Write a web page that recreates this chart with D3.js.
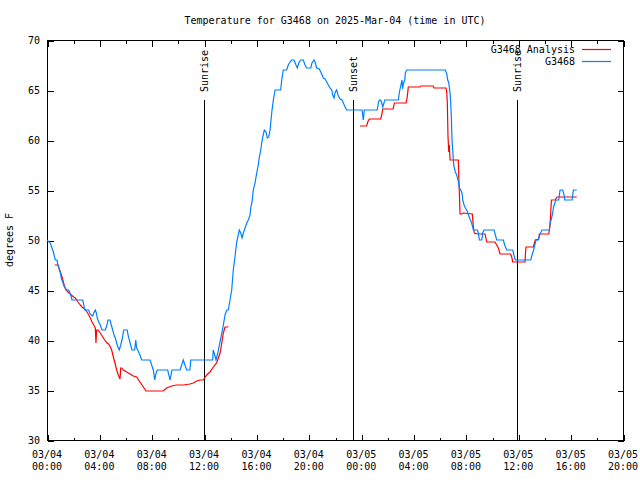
<!DOCTYPE html>
<html>
<head>
<meta charset="utf-8">
<script src="https://cdn.jsdelivr.net/npm/d3@7"></script>
<style>
  body { margin: 0; background: #fff; }
  svg text { font-family: "DejaVu Sans Mono", monospace; font-size: 10px; fill: #000; }
  .frame, .tick line, .event { shape-rendering: crispEdges; }
</style>
</head>
<body>
<script>
// hours after 2025-03-04 00:00 UTC, temperature in degrees F
var obsHours = [0, 0.25, 0.38, 0.51, 0.63, 0.76, 0.84, 0.94, 1.02, 1.09, 1.2, 1.3, 1.4, 1.5, 1.66, 1.76, 1.86, 1.91,
  2.73, 2.8, 2.88, 3.19, 3.26, 3.38, 3.49, 3.57, 3.69, 3.77, 3.84, 3.95, 4.07, 4.2, 4.45, 4.58, 4.66, 4.81, 4.91,
  5.02, 5.12, 5.22, 5.32, 5.42, 5.52, 5.63, 5.73, 5.86, 6.13, 6.19, 6.29, 6.39, 6.49, 6.7, 6.78, 6.85, 6.93, 7.1,
  7.23, 7.87, 8.12, 8.23, 8.33, 8.43, 9.22, 9.4, 9.55, 10.16, 10.29, 10.41, 10.54, 10.67, 10.92, 10.98, 12.66,
  12.7, 12.81, 12.91, 13.01, 13.12, 13.22, 13.35, 13.47, 13.6, 13.73, 13.85, 13.98, 14.11, 14.23, 14.36, 14.49,
  14.61, 14.69, 14.8, 14.9, 15.0, 15.13, 15.26, 15.38, 15.51, 15.56, 15.66, 15.76, 15.89, 16.02, 16.14, 16.22,
  16.33, 16.4, 16.48, 16.6, 16.73, 16.83, 16.94, 17.04, 17.11, 17.19, 17.29, 17.42, 17.85, 17.93, 18.05, 18.31,
  18.43, 18.56, 18.69, 18.87, 19.02, 19.12, 19.23, 19.38, 19.58, 19.71, 19.84, 20.15, 20.24, 20.4, 20.5, 20.6,
  20.8, 20.95, 21.11, 21.24, 21.37, 21.49, 21.62, 21.75, 21.83, 21.93, 22.02, 22.13, 22.23, 22.38, 22.54, 22.64,
  22.77, 22.9, 24.07, 24.16, 24.24, 25.23, 25.31, 25.39, 25.49, 25.57, 25.65, 25.74, 25.8, 26.84, 26.91, 26.97,
  27.07, 27.12, 27.17, 27.22, 27.33, 27.37, 27.48, 30.43, 30.54, 30.61, 30.69, 30.79, 30.84, 30.89, 30.94, 30.99,
  31.04, 31.09, 31.19, 31.3, 31.4, 31.5, 31.61, 31.7, 31.76, 31.86, 31.96, 32.06, 32.19, 32.31, 32.44, 32.57,
  32.87, 32.95, 33.03, 33.21, 33.28, 33.38, 34.15, 34.25, 34.35, 34.86, 34.96, 35.12, 35.58, 35.68, 35.78, 36.95,
  37.05, 37.15, 37.26, 37.36, 37.53, 37.66, 37.82, 38.37, 38.43, 38.53, 38.63, 38.68, 38.79, 38.89, 39.09, 39.19,
  39.4, 39.5, 39.55, 40.11, 40.21, 40.47];
var obsTemp = [50, 49.7, 49.2, 48.7, 48, 48, 47.5, 47.1, 46.7, 46.2, 45.8, 45.4, 45.2, 45, 45, 44.7, 44.3, 44,
  44, 43.6, 43, 43, 42.7, 42.5, 42.4, 42.7, 43, 42.7, 42.2, 41.8, 41.5, 41, 41, 41.5, 42, 42, 41.5,
  41, 40.5, 40.2, 39.7, 39.3, 39, 39.5, 40, 41, 41, 40.5, 40, 39.5, 39, 39, 40, 39.2, 39, 38.5,
  38, 38, 37, 36, 36.7, 37, 37, 36, 37, 37, 37.5, 38, 37.5, 37, 37, 38, 38,
  39, 38.5, 38, 38.5, 39.2, 39.8, 40.7, 41.5, 42.5, 43, 43, 44, 45, 47, 48.3, 49.8,
  50.5, 51, 50.7, 50.2, 50.7, 51.2, 51.7, 52, 52.5, 53.2, 53.8, 55, 55.7, 56.7, 57.5, 58.3,
  59, 59.7, 60.3, 61, 60.8, 60.2, 60.3, 61, 62, 63, 64, 65, 65, 66, 67, 67,
  67.5, 67.8, 68, 68, 67.5, 67.2, 67.7, 68, 68, 67.5, 67.2, 67.2, 67.7, 68, 67.7, 67.2,
  67.1, 66.7, 66.2, 66.1, 65.8, 65.5, 65.2, 65, 64.5, 64.2, 64.8, 65, 64.5, 64.1, 64, 63.7,
  63.3, 63, 63, 62, 63, 63, 63.7, 64, 64, 63.7, 63.3, 63.7, 64, 64, 64.7, 65.1,
  65.7, 66, 65.1, 65.6, 66, 66.7, 67, 67, 66.6, 66, 65.7, 64.7, 63.7, 62.1, 60, 59,
  58, 57.3, 56.8, 56.5, 56, 55.2, 55, 54.7, 54, 53.5, 53.2, 53, 52.5, 52.1, 51.7, 51,
  51, 50.7, 50, 50, 50.7, 51, 51, 50.5, 50, 50, 49.5, 49, 49, 48.4, 48, 48,
  48.5, 48.9, 49.5, 50, 50, 50.6, 51, 51, 51.7, 52.1, 52.7, 53.2, 53.7, 54, 54, 55,
  55, 54.5, 54, 54, 55, 55];

// analysis run: two pieces with a gap in between
var anaHours1 = [0.59, 0.84, 0.94, 1.02, 1.15, 1.25, 1.35, 1.45, 1.6, 1.7, 1.86, 2.04, 2.16, 2.37, 2.54, 2.67,
  2.88, 3.06, 3.19, 3.31, 3.44, 3.57, 3.69, 3.74, 3.79, 3.9, 4.07, 4.26, 4.41, 4.58, 4.71, 4.84, 4.94, 5.07,
  5.19, 5.32, 5.45, 5.58, 5.63, 5.71, 5.83, 6.09, 6.34, 6.59, 6.85, 7.1, 7.36, 7.56, 8.88, 9.14, 9.53, 9.91,
  10.41, 10.92, 11.18, 11.44, 11.69, 11.94, 12.2, 12.45, 12.7, 12.96, 13.09, 13.22, 13.35, 13.47, 13.6, 13.85];
var anaTemp1 = [47.5, 47.5, 47.1, 46.8, 46.3, 45.8, 45.3, 45, 44.8, 44.7, 44.5, 44.3, 44.2, 43.8, 43.5, 43.3,
  43.1, 42.8, 42.5, 42.2, 41.8, 41.5, 41.2, 39.7, 41, 41, 40.7, 40.3, 40, 39.7, 39.6, 39.3, 39, 38.3,
  37.7, 37, 36.5, 36.1, 37.2, 37.2, 37, 36.8, 36.6, 36.4, 36.3, 35.8, 35.3, 34.9, 34.9, 35.2, 35.4, 35.5,
  35.5, 35.6, 35.7, 35.9, 36, 36, 36.5, 36.8, 37.3, 37.7, 38.2, 38.7, 39.7, 40.7, 41.3, 41.3];
var anaHours2 = [23.91, 24.42, 24.5, 24.62, 25.49, 25.57, 25.65, 26.45, 26.53, 27.43, 27.52, 27.6, 28.49, 28.55,
  29.51, 29.56, 30.48, 30.54, 30.58, 30.63, 30.69, 30.73, 30.79, 31.42, 31.45, 31.55, 31.68, 31.8, 32.49, 32.57,
  32.64, 32.87, 33.46, 33.59, 34.22, 34.48, 34.61, 35.42, 35.52, 35.57, 36.52, 36.54, 36.59, 37.15, 37.3,
  37.56, 37.61, 38.33, 38.43, 38.53, 38.81, 38.96, 40.47];
var anaTemp2 = [61.4, 61.4, 61.8, 62.1, 62.1, 62.5, 63.1, 63.1, 63.7, 63.7, 64.3, 65.3, 65.3, 65.4,
  65.4, 65.2, 65.2, 64.7, 63.7, 60.4, 58.8, 59.5, 58, 58, 56.7, 52.6, 52.6, 52.7, 52.6, 51.3,
  50.7, 50.6, 50.6, 49.8, 49.8, 49.2, 48.6, 48.6, 48.2, 47.8, 47.8, 48.5, 49.3, 49.3, 50,
  50.1, 50.6, 50.6, 51.5, 54, 54, 54.3, 54.3];

var eventNames = ["Sunrise", "Sunset", "Sunrise"];
var eventHours = [11.99, 23.38, 35.9];

var yTicks = [30, 35, 40, 45, 50, 55, 60, 65, 70];
var seriesNames = ["G3468 Analysis", "G3468"];
var seriesColors = ["#ff0000", "#0080ff"];

var t0 = Date.UTC(2025, 2, 4, 0);
function toDate(h) { return new Date(t0 + h * 3600000); }

var width = 640, height = 480,
    plotL = 47, plotR = 623, plotT = 40, plotB = 440;

var svg = d3.select("body").append("svg")
  .attr("width", width)
  .attr("height", height);

var x = d3.scaleUtc()
  .domain([toDate(0), toDate(44)])
  .range([plotL, plotR]);
var y = d3.scaleLinear()
  .domain([30, 70])
  .range([plotB, plotT]);

// title
svg.append("text")
  .attr("x", (plotL + plotR) / 2)
  .attr("y", 24)
  .attr("text-anchor", "middle")
  .text("Temperature for G3468 on 2025-Mar-04 (time in UTC)");

// y axis label
svg.append("text")
  .attr("transform", "translate(13," + (plotT + plotB) / 2 + ") rotate(-90)")
  .attr("text-anchor", "middle")
  .text("degrees F");

// ticks on all four sides, pointing inwards
var major = d3.utcHour.every(4).range(toDate(0), toDate(44.01));
var minor = d3.utcHour.every(2).range(toDate(0), toDate(44.01));

function xTicks(vals, len) {
  svg.append("g").attr("transform", "translate(0.5," + (plotB + 0.5) + ")")
    .call(d3.axisBottom(x).tickValues(vals).tickSize(-len).tickFormat(""))
    .call(function (g) { g.select(".domain").remove(); });
  svg.append("g").attr("transform", "translate(0.5," + (plotT + 0.5) + ")")
    .call(d3.axisTop(x).tickValues(vals).tickSize(-len).tickFormat(""))
    .call(function (g) { g.select(".domain").remove(); });
}
xTicks(minor, 3);
xTicks(major, 6);

svg.append("g").attr("transform", "translate(" + (plotL + 0.5) + ",0.5)")
  .call(d3.axisLeft(y).tickValues(yTicks).tickSize(-6).tickFormat(""))
  .call(function (g) { g.select(".domain").remove(); });
svg.append("g").attr("transform", "translate(" + (plotR + 0.5) + ",0.5)")
  .call(d3.axisRight(y).tickValues(yTicks).tickSize(-6).tickFormat(""))
  .call(function (g) { g.select(".domain").remove(); });

svg.selectAll(".tick line").attr("stroke", "#000");

// tick labels
svg.selectAll(".ylab").data(yTicks).enter().append("text")
  .attr("x", plotL - 7)
  .attr("y", function (d) { return y(d); })
  .attr("dy", "0.35em")
  .attr("text-anchor", "end")
  .text(function (d) { return d; });

var fmtDay = d3.utcFormat("%m/%d"), fmtTime = d3.utcFormat("%H:%M");
var xl = svg.selectAll(".xlab").data(major).enter().append("text")
  .attr("text-anchor", "middle");
xl.append("tspan")
  .attr("x", function (d) { return x(d); })
  .attr("y", plotB + 18)
  .text(fmtDay);
xl.append("tspan")
  .attr("x", function (d) { return x(d); })
  .attr("y", plotB + 30)
  .text(fmtTime);

// plot frame
svg.append("rect")
  .attr("class", "frame")
  .attr("x", plotL + 0.5).attr("y", plotT + 0.5)
  .attr("width", plotR - plotL).attr("height", plotB - plotT)
  .attr("fill", "none").attr("stroke", "#000");

// sunrise / sunset markers
eventHours.forEach(function (h, i) {
  var ex = Math.round(x(toDate(h))) + 0.5;
  svg.append("line")
    .attr("class", "event")
    .attr("x1", ex).attr("x2", ex)
    .attr("y1", 100).attr("y2", plotB)
    .attr("stroke", "#000");
  svg.append("text")
    .attr("transform", "translate(" + ex + ",92) rotate(-90)")
    .attr("dy", "0.35em")
    .text(eventNames[i]);
});

var line = d3.line()
  .x(function (d) { return x(toDate(d[0])); })
  .y(function (d) { return y(d[1]); });

function pairs(hs, ts) { return hs.map(function (h, i) { return [h, ts[i]]; }); }

[pairs(anaHours1, anaTemp1), pairs(anaHours2, anaTemp2)].forEach(function (p) {
  svg.append("path").datum(p)
    .attr("d", line)
    .attr("fill", "none")
    .attr("stroke", seriesColors[0])
    .attr("stroke-width", 1.2);
});
svg.append("path").datum(pairs(obsHours, obsTemp))
  .attr("d", line)
  .attr("fill", "none")
  .attr("stroke", seriesColors[1])
  .attr("stroke-width", 1.2);

// legend
seriesNames.forEach(function (name, i) {
  var ly = 49 + i * 12;
  svg.append("text")
    .attr("x", 575).attr("y", ly)
    .attr("dy", "0.35em")
    .attr("text-anchor", "end")
    .text(name);
  svg.append("line")
    .attr("x1", 582).attr("x2", 611)
    .attr("y1", ly + 0.5).attr("y2", ly + 0.5)
    .attr("stroke", seriesColors[i])
    .attr("stroke-width", 1.2);
});
</script>
</body>
</html>
